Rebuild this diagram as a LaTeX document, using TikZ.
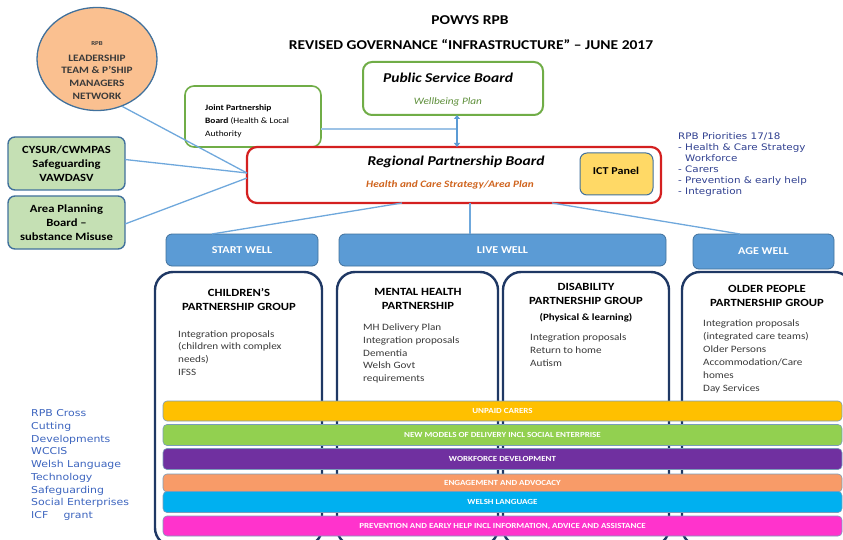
\documentclass[tikz,border=0pt]{standalone}
\usepackage{fontspec}
\setmainfont[FakeStretch=1.15]{Carlito}
\newfontfamily\verd[FakeStretch=1.15]{DejaVu Sans}
\usetikzlibrary{shapes.geometric,arrows.meta}

\definecolor{navy}{HTML}{1F3864}
\definecolor{wellblue}{HTML}{5B9BD5}
\definecolor{edgegrey}{HTML}{41719C}
\definecolor{peach}{HTML}{FAC090}
\definecolor{paleleaf}{HTML}{C5E0B4}
\definecolor{leaf}{HTML}{70AD47}
\definecolor{leafdark}{HTML}{5E8F3A}
\definecolor{rpbred}{HTML}{D42020}
\definecolor{rust}{HTML}{D0641E}
\definecolor{ictgold}{HTML}{FFD966}
\definecolor{linkblue}{HTML}{6FA8DC}
\definecolor{linkpale}{HTML}{9DC3E6}
\definecolor{prioblue}{HTML}{2F3F8F}
\definecolor{crossblue}{HTML}{3C64BE}
\definecolor{bandyellow}{HTML}{FFC000}
\definecolor{bandgreen}{HTML}{92D050}
\definecolor{bandpurple}{HTML}{7030A0}
\definecolor{bandorange}{HTML}{F89B68}
\definecolor{bandcyan}{HTML}{00B0F0}
\definecolor{bandpink}{HTML}{FF33CC}
\definecolor{inkgrey}{HTML}{3A3A3A}

\newcommand\fsz[2]{\fontsize{#1}{#2}\selectfont}

\begin{document}
\begin{tikzpicture}[x=1pt,y=-1pt,
  box/.style={anchor=north west,inner sep=0pt,outer sep=0pt,rounded corners=#1},
  box/.default=6,
  conn/.style={draw=linkblue,line width=1.3pt},
  palelink/.style={draw=linkpale,line width=1.5pt},
  dblarrow/.style={draw=wellblue,line width=2pt,{Triangle[width=6pt,length=4pt]}-{Triangle[width=6pt,length=4pt]}},
  sidebox/.style={box=7,draw=edgegrey,fill=paleleaf,line width=1.4pt,minimum width=117,minimum height=53,
    align=center,font=\fsz{11}{13.8}\bfseries},
  wellbox/.style={box=6,draw=edgegrey,fill=wellblue,line width=0.8pt,minimum height=32,
    text=white,font=\fsz{10.5}{12}\bfseries},
  groupbox/.style={box=18,draw=navy,fill=white,line width=2.4pt,minimum height=274},
  grouptitle/.style={align=center,font=\fsz{11}{14}\bfseries,inner sep=0pt},
  groupbody/.style={anchor=west,align=left,font=\fsz{9.7}{12.75},text=inkgrey,inner sep=0pt},
  band/.style={box=4,draw=edgegrey!70,line width=0.6pt,minimum width=679,
    text=white,font=\fsz{7.8}{9}\bfseries}
]
\useasboundingbox (0,0) rectangle (843,540);

% ---------- heading ----------
\node[font=\fsz{13.5}{15}\bfseries] (head1) at (470,20) {POWYS RPB};
\node[font=\fsz{13.5}{15}\bfseries] (head2) at (471,45) {REVISED GOVERNANCE “INFRASTRUCTURE” – JUNE 2017};

% ---------- left-hand bodies ----------
\node[ellipse,draw=edgegrey,fill=peach,line width=1.3pt,minimum width=120,minimum height=103,inner sep=0pt] (lead) at (97,59) {};
\node[font=\fsz{6}{7}\bfseries,text=inkgrey] (leadrpb) at (97,44) {RPB};
\node[align=center,font=\fsz{9.8}{12.7}\bfseries,text=inkgrey] (leadtxt) at (97,77)
  {LEADERSHIP\\TEAM \& P’SHIP\\MANAGERS\\NETWORK};

\node[sidebox] (cysur) at (8,137) {CYSUR/CWMPAS\\Safeguarding\\VAWDASV};
\node[sidebox] (apb) at (8,196) {Area Planning\\Board –\\substance Misuse};

% ---------- boards ----------
\node[box=9,draw=leaf,fill=white,line width=1.6pt,minimum width=136,minimum height=61] (jpb) at (185,86) {};
\node[anchor=west,align=left,font=\fsz{8.2}{13},inner sep=0pt] (jpbtxt) at (205,121)
  {\textbf{Joint Partnership}\\\textbf{Board} (Health \& Local\\Authority};

\node[box=9,draw=leaf,fill=white,line width=2pt,minimum width=180,minimum height=53] (psb) at (363,62) {};
\node[font=\fsz{13.5}{15}\bfseries\itshape] (psbtxt) at (448,78) {Public Service Board};
\node[font=\fsz{9.8}{11}\itshape,text=leafdark] (psbplan) at (448,102) {Wellbeing Plan};

\node[box=10,draw=rpbred,fill=white,line width=2.2pt,minimum width=414,minimum height=56] (rpb) at (247,147) {};
\node[font=\fsz{13.5}{15}\bfseries\itshape] (rpbtxt) at (456,162) {Regional Partnership Board};
\node[font=\fsz{9.8}{11}\bfseries\itshape,text=rust] (rpbplan) at (450,185) {Health and Care Strategy/Area Plan};

\node[box=7,draw=edgegrey,fill=ictgold,line width=1pt,minimum width=73,minimum height=42] (ict) at (580,153) {};
\node[font=\fsz{10.5}{12}\bfseries] (icttxt) at (616,171) {ICT Panel};

\node[anchor=north west,align=left,font=\verd\fsz{9}{11},text=prioblue,inner sep=0pt] (prio) at (678,132)
  {RPB Priorities 17/18\\- Health \& Care Strategy\\\phantom{- }Workforce\\- Carers\\- Prevention \& early help\\- Integration};

% ---------- connectors ----------
\draw[conn] (lead.-62) -- ([yshift=2pt]rpb.west);
\draw[conn] ([yshift=4pt]cysur.east) -- ([yshift=2pt]rpb.west);
\draw[conn] ([yshift=-1.5pt]apb.east) -- ([yshift=-3pt]rpb.west);

\coordinate (psbfoot) at ([xshift=4pt]psb.south);
\draw[palelink] ([yshift=-12.5pt]jpb.east) -- ([yshift=-12.5pt]jpb.east -| psbfoot);
\draw[dblarrow] (psbfoot) -- (psbfoot |- rpb.north);

% ---------- life-stage banners ----------
\node[wellbox,minimum width=152] (start) at (166,234) {START WELL};
\node[wellbox,minimum width=327] (live) at (339,234) {LIVE WELL};
\node[wellbox,minimum width=141,minimum height=35] (age) at (693,234) {AGE WELL};

\draw[conn] ([xshift=-52pt]rpb.south) -- ([xshift=-30pt]start.north);
\draw[conn] ([xshift=16pt]rpb.south) -- ([xshift=16pt]rpb.south |- live.north);
\draw[conn] ([xshift=98pt]rpb.south) -- ([xshift=-23.5pt]age.north);

% ---------- partnership groups ----------
\node[groupbox,minimum width=167] (cpg) at (155,272) {};
\node[groupbox,minimum width=161] (mhp) at (337,272) {};
\node[groupbox,minimum width=166] (dpg) at (503,272) {};
\node[groupbox,minimum width=170] (opg) at (682,272) {};

\node[grouptitle] (cpgt) at (239,300) {CHILDREN’S\\PARTNERSHIP GROUP};
\node[groupbody] (cpgb) at (178,353) {Integration proposals\\(children with complex\\needs)\\IFSS};

\node[grouptitle] (mhpt) at (418,299) {MENTAL HEALTH\\PARTNERSHIP};
\node[groupbody] (mhpb) at (363,353.5) {MH Delivery Plan\\Integration proposals\\Dementia\\Welsh Govt\\requirements};

\node[grouptitle] (dpgt) at (586,293.5) {DISABILITY\\PARTNERSHIP GROUP};
\node[font=\fsz{9.5}{11}\bfseries,inner sep=0pt] (dpgs) at (586,318) {(Physical \& learning)};
\node[groupbody] (dpgb) at (530,350) {Integration proposals\\Return to home\\Autism};

\node[grouptitle] (opgt) at (767,296) {OLDER PEOPLE\\PARTNERSHIP GROUP};
\node[groupbody,font=\fsz{9.7}{13}] (opgb) at (703,356.5) {Integration proposals\\(integrated care teams)\\Older Persons\\Accommodation/Care\\homes\\Day Services};

% ---------- cross-cutting bands ----------
\node[band,fill=bandyellow,minimum height=20] (b1) at (163,401) {UNPAID CARERS};
\node[band,fill=bandgreen,minimum height=21] (b2) at (163,424.5) {NEW MODELS OF DELIVERY INCL SOCIAL ENTERPRISE};
\node[band,fill=bandpurple,minimum height=21] (b3) at (163,448.5) {WORKFORCE DEVELOPMENT};
\node[band,fill=bandorange,minimum height=18] (b4) at (163,474) {ENGAGEMENT AND ADVOCACY};
\node[band,fill=bandcyan,minimum height=21] (b5) at (163,491.5) {WELSH LANGUAGE};
\node[band,fill=bandpink,minimum height=20] (b6) at (163,516) {PREVENTION AND EARLY HELP INCL INFORMATION, ADVICE AND ASSISTANCE};

\node[anchor=west,align=left,font=\verd\fsz{9.5}{12.75},text=crossblue,inner sep=0pt] (cross) at (31,465)
  {RPB Cross\\Cutting\\Developments\\WCCIS\\Welsh Language\\Technology\\Safeguarding\\Social Enterprises\\ICF\hspace{1.6em}grant};
\end{tikzpicture}
\end{document}
